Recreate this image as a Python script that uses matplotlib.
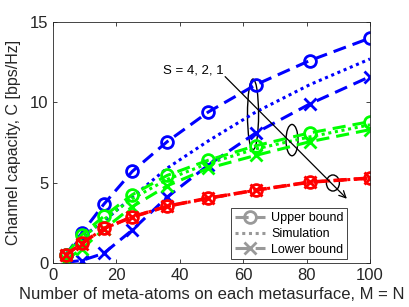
import numpy as np
import matplotlib.pyplot as plt
from matplotlib.patches import Ellipse
from matplotlib.lines import Line2D

plt.rcParams['font.family'] = ['Liberation Sans', 'DejaVu Sans']

# Dados (M = N)
M = [4, 9, 16, 25, 36, 49, 64, 81, 100]

# S = 4 (azul)
up_s4 = [0.5, 1.85, 3.65, 5.7, 7.55, 9.4, 11.1, 12.6, 14.0]
sim_s4 = [0.5, 1.6, 2.6, 4.1, 5.9, 7.6, 9.4, 11.1, 12.7]
low_s4 = [0.05, 0.15, 0.6, 2.05, 4.1, 6.1, 8.1, 9.9, 11.6]

# S = 2 (verde)
up_s2 = [0.5, 1.75, 2.9, 4.25, 5.45, 6.4, 7.3, 8.1, 8.8]
sim_s2 = [0.45, 1.5, 2.7, 4.0, 5.2, 6.2, 7.1, 7.85, 8.6]
low_s2 = [0.2, 0.85, 2.1, 3.5, 4.8, 5.9, 6.7, 7.55, 8.3]

# S = 1 (vermelho)
up_s1 = [0.5, 1.22, 2.16, 2.88, 3.55, 4.05, 4.55, 5.05, 5.3]
sim_s1 = [0.5, 1.2, 2.14, 2.86, 3.53, 4.03, 4.53, 5.03, 5.28]
low_s1 = [0.48, 1.2, 2.13, 2.85, 3.52, 4.02, 4.52, 5.02, 5.27]

series = [
    ("#0000ff", up_s4, sim_s4, low_s4),
    ("#00ff00", up_s2, sim_s2, low_s2),
    ("#ff0000", up_s1, sim_s1, low_s1),
]

dash = (0, (4.3, 2.3))
dot = (0, (1, 1.2))
lw = 2.2

fig = plt.figure(figsize=(4.09, 3.07), dpi=100)
ax = fig.add_axes([0.1296, 0.1433, 0.775, 0.785])

for color, up, sim, low in series:
    ax.plot(M, sim, linestyle=dot, color=color, lw=lw)
    ax.plot(M, up, linestyle=dash, color=color, lw=lw, marker='o',
            markersize=8.5, markeredgewidth=2, markerfacecolor='none')
    ax.plot(M, low, linestyle=dash, color=color, lw=lw, marker='x',
            markersize=8.5, markeredgewidth=2)

# Elipses e seta
for (cx, cy, w, h) in [(63.1, 9.25, 3.5, 4.4), (75.4, 7.65, 3.8, 1.95),
                       (88.3, 4.98, 4.1, 1.0)]:
    ax.add_patch(Ellipse((cx, cy), w, h, fill=False, color='black', lw=1))

ax.text(34.7, 12.0, "S = 4, 2, 1", fontsize=9.5, ha='left', va='center')
ax.annotate("", xy=(92.7, 4.0), xytext=(54.3, 11.6),
            arrowprops=dict(arrowstyle='->', color='black', lw=0.9,
                            shrinkA=0, shrinkB=0, mutation_scale=12))

ax.set_xlim(0, 100)
ax.set_ylim(0, 15)
ax.set_xticks([0, 20, 40, 60, 80, 100])
ax.set_yticks([0, 5, 10, 15])
ax.tick_params(direction='in', top=True, right=True, length=3,
               labelsize=12, colors='#262626', width=0.6)
for s in ax.spines.values():
    s.set_color('#262626')
    s.set_linewidth(0.6)

ax.set_xlabel("Number of meta-atoms on each metasurface, M = N", fontsize=12,
              color='#262626', labelpad=3)
ax.set_ylabel("Channel capacity, C [bps/Hz]", fontsize=11.5, color='#262626',
              labelpad=6)

# Legenda
gray = '#999999'
handles = [
    Line2D([], [], color=gray, lw=lw, linestyle=dash, marker='o', markersize=8.5,
           markeredgewidth=2, markerfacecolor='none'),
    Line2D([], [], color=gray, lw=lw, linestyle=dot),
    Line2D([], [], color=gray, lw=lw, linestyle=dash, marker='x', markersize=8.5,
           markeredgewidth=2),
]
leg = ax.legend(handles, ["Upper bound", "Simulation", "Lower bound"],
                loc='lower right', bbox_to_anchor=(0.928, 0.015), fontsize=9,
                fancybox=False, edgecolor='#262626', framealpha=1,
                handlelength=2.4, borderpad=0.3, labelspacing=0.3,
                handletextpad=0.5, borderaxespad=0)
leg.get_frame().set_linewidth(0.6)

fig.savefig("out.png", dpi=100)
